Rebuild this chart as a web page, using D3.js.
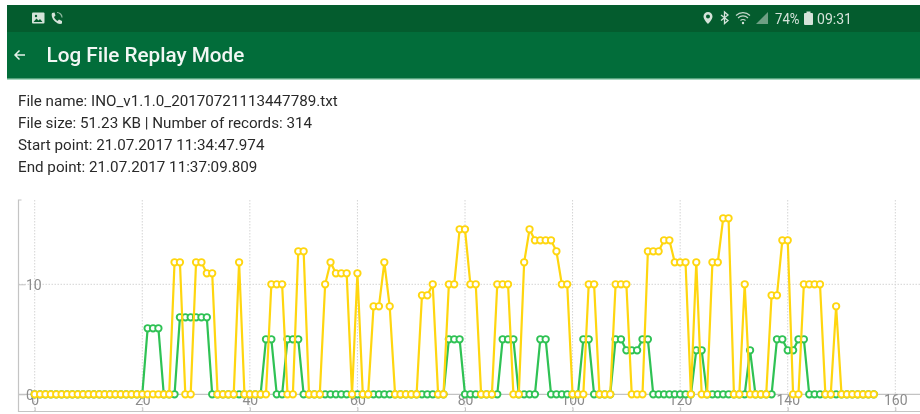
<!DOCTYPE html>
<html>
<head>
<meta charset="utf-8">
<script src="https://cdn.jsdelivr.net/npm/d3@7"></script>
<style>
  html, body { margin: 0; padding: 0; background: #fff; overflow: hidden; }
  text { font-family: Roboto, sans-serif; }
  svg { filter: blur(0.35px); } /* the reference is a soft screenshot */
</style>
</head>
<body>
<div id="chart"></div>
<script>
  var xTicks = [0, 20, 40, 60, 80, 100, 120, 140, 160];
  var yTicks = [0, 10];
  var infoLines = [
    'File name: INO_v1.1.0_20170721113447789.txt',
    'File size: 51.23 KB | Number of records: 314',
    'Start point: 21.07.2017 11:34:47.974',
    'End point: 21.07.2017 11:37:09.809'
  ];

  // one entry per record, index = x value
  var greenValues = [
    0, 0, 0, 0, 0, 0, 0, 0, 0, 0, 0, 0, 0, 0, 0, 0, 0, 0, 0, 0,
    0, 6, 6, 6, 0, 0, 0, 7, 7, 7, 7, 7, 7, 0, 0, 0, 0, 0, 0, 0,
    0, 0, 0, 5, 5, 0, 0, 5, 5, 5, 0, 0, 0, 0, 0, 0, 0, 0, 0, 0,
    0, 0, 0, 0, 0, 0, 0, 0, 0, 0, 0, 0, 0, 0, 0, 0, 0, 5, 5, 5,
    0, 0, 0, 0, 0, 0, 0, 5, 5, 5, 0, 0, 0, 0, 5, 5, 0, 0, 0, 0,
    0, 0, 5, 5, 0, 0, 0, 0, 5, 5, 4, 4, 4, 5, 5, 0, 0, 0, 0, 0,
    0, 0, 0, 4, 4, 0, 0, 0, 0, 0, 0, 0, 0, 4, 0, 0, 0, 0, 5, 5,
    4, 4, 5, 5, 0, 0, 0, 0, 0, 0, 0, 0, 0, 0, 0, 0, 0
  ];
  var yellowValues = [
    0, 0, 0, 0, 0, 0, 0, 0, 0, 0, 0, 0, 0, 0, 0, 0, 0, 0, 0, 0,
    0, 0, 0, 0, 0, 0, 12, 12, 0, 0, 12, 12, 11, 11, 0, 0, 0, 0, 12, 0,
    0, 0, 0, 0, 10, 10, 10, 0, 0, 13, 13, 0, 0, 0, 10, 12, 11, 11, 11, 0,
    11, 0, 0, 8, 8, 12, 8, 0, 0, 0, 0, 0, 9, 9, 10, 0, 0, 10, 10, 15,
    15, 10, 10, 0, 0, 0, 10, 10, 10, 0, 0, 12, 15, 14, 14, 14, 14, 13, 10, 10,
    0, 0, 0, 10, 10, 0, 0, 0, 10, 10, 10, 0, 0, 0, 13, 13, 13, 14, 14, 12,
    12, 12, 0, 12, 0, 0, 12, 12, 16, 16, 0, 0, 10, 0, 0, 0, 0, 9, 9, 14,
    14, 0, 0, 10, 10, 10, 10, 0, 0, 8, 0, 0, 0, 0, 0, 0, 0
  ];

  var width = 920;
  var height = 414;
  var axisColor = '#c4c4c4';
  var gridColor = '#d4d4d4';
  var labelColor = '#8c8c8c';
  var green = '#2fc254';
  var yellow = '#ffd60f';

  var svg = d3.select('#chart').append('svg').attr('width', width).attr('height', height)
    .style('display', 'block');

  var x = d3.scaleLinear().domain([0, 160]).range([34.7, 895.3]);
  var y = d3.scaleLinear().domain([0, 10]).range([394.3, 284.3]);
  var plotLeft = 18.5;
  var plotRight = 920;
  var plotTop = 200;
  var plotBottom = 411.5;

  renderHeader();
  renderInfo();
  renderGrid();
  renderAxes();
  renderSeries(greenValues, green);
  renderSeries(yellowValues, yellow);

  /*
   * Status bar and app bar with their little icons
   */
  function renderHeader() {
    svg.append('rect').attr('x', 7).attr('y', 5).attr('width', 913).attr('height', 27).attr('fill', '#045c2e');
    svg.append('rect').attr('x', 7).attr('y', 32).attr('width', 913).attr('height', 47).attr('fill', '#026d3a');
    svg.append('rect').attr('x', 7).attr('y', 78.5).attr('width', 913).attr('height', 1.5).attr('fill', '#a9d8bf');

    var icons = svg.append('g').attr('fill', '#d5e3da');
    // picture icon
    icons.append('rect').attr('x', 32).attr('y', 12.5).attr('width', 12.5).attr('height', 11).attr('rx', 1);
    icons.append('path').attr('d', 'M33.5 22l3-3.500 2 2 1.500-1.500 2.500 3z').attr('fill', '#045c2e');
    icons.append('circle').attr('cx', 36).attr('cy', 16).attr('r', 1.2).attr('fill', '#045c2e');
    // phone icon
    icons.append('path').attr('d', 'M52 13c-1 2 0 6 3 8.500s5 3 7 2l0-2.500-3-1.500-1.500 1.500c-1.500-.7-3-2.500-3.500-4l1.500-1.500-1-3z');
    icons.append('path').attr('d', 'M57 12.500a5 5 0 0 1 5 5').attr('fill', 'none').attr('stroke', '#8fb8a0').attr('stroke-width', 1.2);
    // location pin
    icons.append('path').attr('fill-rule', 'evenodd')
      .attr('d', 'M708 12a4.500 4.500 0 0 1 4.500 4.500c0 3-4.500 7.500-4.500 7.500s-4.500-4.500-4.500-7.500a4.500 4.500 0 0 1 4.500-4.500zm0 2.500a2 2 0 1 0 0 4 2 2 0 0 0 0-4z');
    // bluetooth
    icons.append('path').attr('fill', 'none').attr('stroke', '#d5e3da').attr('stroke-width', 1.3)
      .attr('d', 'M721 15l7 5.500-3.500 3v-11.500l3.500 3-7 5.500');
    // wifi arcs
    icons.append('path').attr('fill', 'none').attr('stroke', '#c4d8cb').attr('stroke-width', 1.1)
      .attr('d', 'M736 15.500a10 10 0 0 1 14 0M738 18a7 7 0 0 1 10 0M740.500 20.500a3.500 3.500 0 0 1 5 0');
    icons.append('circle').attr('cx', 743).attr('cy', 23).attr('r', 1.2);
    // signal triangle
    icons.append('path').attr('d', 'M756 24l12-12v12z').attr('fill', '#6f9f84');
    // battery
    icons.append('rect').attr('x', 804).attr('y', 13).attr('width', 9).attr('height', 12).attr('rx', 1);
    icons.append('rect').attr('x', 806.500).attr('y', 11.500).attr('width', 4).attr('height', 2);

    svg.append('text').attr('x', 775).attr('y', 24).attr('font-size', 15.500).attr('fill', '#d5e3da')
      .attr('textLength', 24.5).attr('lengthAdjust', 'spacingAndGlyphs').text('74%');
    svg.append('text').attr('x', 817).attr('y', 24).attr('font-size', 15.500).attr('fill', '#d5e3da')
      .attr('textLength', 35).attr('lengthAdjust', 'spacingAndGlyphs').text('09:31');

    svg.append('path').attr('fill', 'none').attr('stroke', '#e6f1ea').attr('stroke-width', 1.500)
      .attr('d', 'M25 55h-10M19.500 50.500l-4.500 4.500 4.500 4.500');
    svg.append('text').attr('x', 46.500).attr('y', 62).attr('font-size', 20.700).attr('font-weight', 500)
      .attr('fill', '#f2f7f4').text('Log File Replay Mode');
  }

  /*
   * The four lines about the log file
   */
  function renderInfo() {
    svg.selectAll('.info')
      .data(infoLines)
      .enter()
      .append('text')
      .attr('class', 'info')
      .attr('x', 18)
      .attr('y', function(data, index) {
        return 105.500 + index * 22;
      })
      .attr('font-size', 15.200)
      .attr('fill', '#2a2a2a')
      .text(function(data) {
        return data;
      });
  }

  function renderGrid() {
    svg.selectAll('.grid-x')
      .data(xTicks)
      .enter()
      .append('line')
      .attr('class', 'grid-x')
      .attr('x1', x).attr('x2', x)
      .attr('y1', plotTop).attr('y2', plotBottom)
      .attr('stroke', gridColor).attr('stroke-dasharray', '1.500 1.500');
    svg.selectAll('.grid-y')
      .data(yTicks)
      .enter()
      .append('line')
      .attr('class', 'grid-y')
      .attr('x1', plotLeft).attr('x2', plotRight)
      .attr('y1', y).attr('y2', y)
      .attr('stroke', function(data) {
        return data === 0 ? '#b5b5b5' : gridColor;
      })
      .attr('stroke-dasharray', function(data) {
        return data === 0 ? null : '1.500 1.500';
      });
  }

  function renderAxes() {
    var xAxis = d3.axisBottom(x).tickValues(xTicks).tickFormat(d3.format('d')).tickSize(-4).tickPadding(0);
    var yAxis = d3.axisRight(y).tickValues(yTicks).tickFormat(d3.format('d')).tickSize(7).tickPadding(0);

    var xGroup = svg.append('g').attr('transform', 'translate(0,' + plotBottom + ')').call(xAxis);
    xGroup.select('.domain').remove();
    xGroup.selectAll('line').attr('stroke', axisColor);
    xGroup.selectAll('text')
      .attr('y', -11.500).attr('dy', '0.35em')
      .attr('font-size', 14).attr('font-family', 'Roboto, sans-serif').attr('fill', labelColor);

    var yGroup = svg.append('g').attr('transform', 'translate(' + plotLeft + ',0)').call(yAxis);
    yGroup.select('.domain').remove();
    yGroup.selectAll('line').attr('stroke', axisColor);
    yGroup.selectAll('text')
      .attr('x', 7.500).attr('dy', '0.35em')
      .attr('font-size', 14).attr('font-family', 'Roboto, sans-serif').attr('fill', labelColor);

    svg.append('path')
      .attr('d', 'M' + (plotLeft + 3) + ' ' + plotTop + 'H' + plotLeft + 'V' + plotBottom + 'H' + plotRight)
      .attr('fill', 'none').attr('stroke', axisColor).attr('stroke-width', 1.200);
  }

  /*
   * One line with hollow circles on every record
   */
  function renderSeries(values, color) {
    var line = d3.line()
      .x(function(data, index) { return x(index); })
      .y(function(data) { return y(data); });
    var group = svg.append('g');
    group.append('path')
      .attr('d', line(values))
      .attr('fill', 'none').attr('stroke', color).attr('stroke-width', 2.200);
    group.selectAll('circle')
      .data(values)
      .enter()
      .append('circle')
      .attr('cx', function(data, index) { return x(index); })
      .attr('cy', function(data) { return y(data); })
      .attr('r', 3.200)
      .attr('fill', '#fff').attr('stroke', color).attr('stroke-width', 1.900);
  }
</script>
</body>
</html>
